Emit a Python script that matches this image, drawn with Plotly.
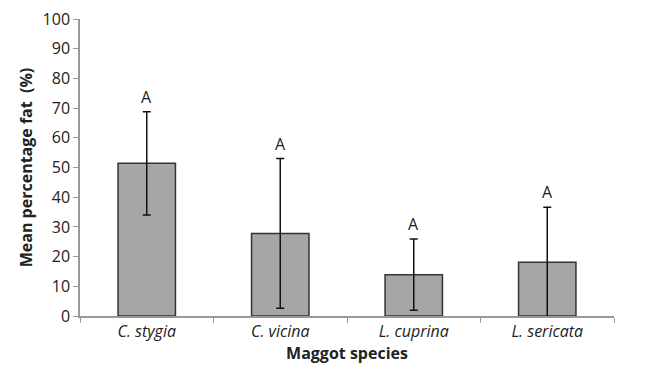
import plotly.graph_objects as go

species = ["C. stygia", "C. vicina", "L. cuprina", "L. sericata"]
mean_fat = [51.4, 27.8, 13.9, 18.1]
err = [17.4, 25.2, 12.0, 18.5]
letters = ["A", "A", "A", "A"]

fig = go.Figure()
fig.add_trace(go.Bar(
    x=species, y=mean_fat,
    marker=dict(color="#a6a6a6", line=dict(color="#333333", width=1.5)),
    width=0.43,
    error_y=dict(type="data", array=err, visible=True, color="#111111", thickness=1.5, width=4),
))
for s, m, e, l in zip(species, mean_fat, err, letters):
    fig.add_annotation(x=s, y=m + e, text=l, showarrow=False, yanchor="bottom", yshift=2,
                       font=dict(size=16, color="#222222"))

# page body has an 8px margin, so the figure is sized to fit inside the window
fig.update_layout(
    width=644, height=359,
    margin=dict(l=72, r=38, t=11, b=51),
    paper_bgcolor="white", plot_bgcolor="white",
    font=dict(family="Open Sans, Liberation Sans, sans-serif", color="#222222"),
    showlegend=False,
)
fig.update_xaxes(
    automargin=False,
    tickson="boundaries", ticks="outside", ticklen=5, tickcolor="#999999",
    showline=True, linecolor="#999999", linewidth=1.5,
    tickfont=dict(size=16, style="italic"),
    title=dict(text="<b>Maggot species</b>", font=dict(size=16), standoff=0),
)
fig.update_yaxes(
    automargin=False, ticklabeloverflow="allow",
    range=[0, 100], dtick=10, ticks="outside", ticklen=5, tickcolor="#999999",
    showline=True, linecolor="#999999", linewidth=1.5, showgrid=False, zeroline=False,
    tickfont=dict(size=16),
    title=dict(text="<b>Mean percentage fat  (%)</b>", font=dict(size=16), standoff=6),
)
fig.write_html("out.html")
